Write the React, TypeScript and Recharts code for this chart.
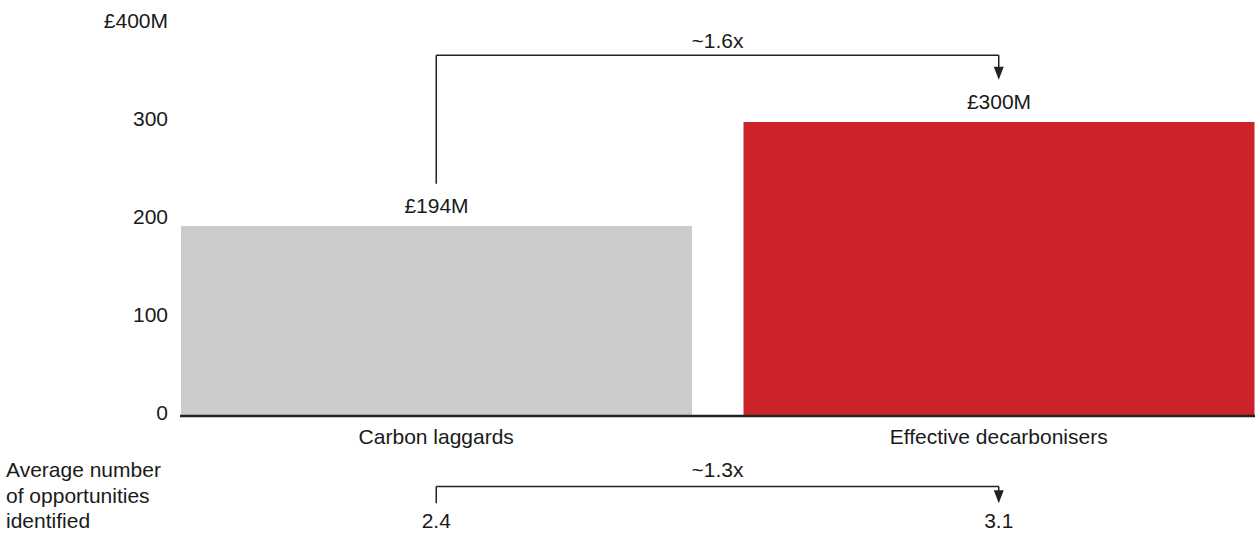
import { BarChart, Bar, XAxis, YAxis, Cell, LabelList, ReferenceLine } from 'recharts';

const categories = ['Carbon laggards', 'Effective decarbonisers'];
const revenue = [194, 300];
const opportunities = [2.4, 3.1];
const barColors = ['#cccccc', '#cc2229'];
const yTicks = [0, 100, 200, 300, 400];
const revenueMultiple = '~1.6x';
const opportunityMultiple = '~1.3x';

// bracket levels, in axis units
const BRACKET_TOP = 368;
const BRACKET_LEFT_END = 237;
const BRACKET_ARROW_TIP = 343;
const LOWER_BRACKET = -72;
const LOWER_BRACKET_END = -89;

const INK = '#1a1a1a';
const FONT = '"Liberation Sans", Arial, Helvetica, sans-serif';

const data = categories.map((name, i) => ({ name, value: revenue[i], opps: opportunities[i] }));

function CategoryTick(props: any) {
  const { x, y, payload } = props;
  const i = categories.indexOf(payload.value);
  return (
    <g>
      <text x={x} y={y + 20} textAnchor="middle" fill={INK} fontSize={21}>
        {payload.value}
      </text>
      <text x={x} y={y + 104} textAnchor="middle" fill={INK} fontSize={21}>
        {opportunities[i]}
      </text>
    </g>
  );
}

function plainLine(props: any) {
  const { x1, y1, x2, y2 } = props;
  return <line x1={x1} y1={y1} x2={x2} y2={y2} stroke="#222" strokeWidth={1.5} />;
}

function arrowLine(props: any) {
  const { x1, y1, x2, y2 } = props;
  const top = Math.min(y1, y2);
  const tip = Math.max(y1, y2);
  return (
    <g>
      <line x1={x1} y1={top} x2={x2} y2={tip - 6} stroke="#222" strokeWidth={1.5} />
      <polygon points={`${x2 - 5},${tip - 13} ${x2 + 5},${tip - 13} ${x2},${tip}`} fill="#222" />
    </g>
  );
}

export default function App() {
  return (
    <div style={{ position: 'absolute', left: 0, top: 0, width: 1255, height: 534, fontFamily: FONT, background: '#fff' }}>
      <BarChart
        width={1255}
        height={534}
        data={data}
        margin={{ top: 24, right: 0, bottom: 0, left: 0 }}
        barCategoryGap={26}
      >
        <YAxis
          type="number"
          domain={[0, 400]}
          ticks={yTicks}
          width={180}
          axisLine={false}
          tickLine={false}
          tickMargin={6}
          tick={{ fill: INK, fontSize: 21, dy: -3 }}
          tickFormatter={(v: number) => (v === 400 ? '£400M' : String(v))}
        />
        <XAxis
          dataKey="name"
          type="category"
          height={118}
          padding={{ left: -25, right: -25 }}
          axisLine={{ stroke: '#222', strokeWidth: 2.5 }}
          tickLine={false}
          tick={<CategoryTick />}
          interval={0}
        />
        <Bar dataKey="value" isAnimationActive={false}>
          {data.map((d, i) => (
            <Cell key={d.name} fill={barColors[i]} />
          ))}
          <LabelList
            dataKey="value"
            position="top"
            offset={13}
            fill={INK}
            fontSize={21}
            formatter={(v: any) => `£${v}M`}
          />
        </Bar>

        <ReferenceLine
          segment={[{ x: categories[0], y: BRACKET_LEFT_END }, { x: categories[0], y: BRACKET_TOP }]}
          shape={plainLine}
        />
        <ReferenceLine
          segment={[{ x: categories[0], y: BRACKET_TOP }, { x: categories[1], y: BRACKET_TOP }]}
          shape={plainLine}
          label={{ value: revenueMultiple, position: 'top', offset: 7, fill: INK, fontSize: 21 }}
        />
        <ReferenceLine
          segment={[{ x: categories[1], y: BRACKET_TOP }, { x: categories[1], y: BRACKET_ARROW_TIP }]}
          shape={arrowLine}
        />

        <ReferenceLine
          ifOverflow="visible"
          segment={[{ x: categories[0], y: LOWER_BRACKET }, { x: categories[0], y: LOWER_BRACKET_END }]}
          shape={plainLine}
        />
        <ReferenceLine
          ifOverflow="visible"
          segment={[{ x: categories[0], y: LOWER_BRACKET }, { x: categories[1], y: LOWER_BRACKET }]}
          shape={plainLine}
          label={{ value: opportunityMultiple, position: 'top', offset: 10, fill: INK, fontSize: 21 }}
        />
        <ReferenceLine
          ifOverflow="visible"
          segment={[{ x: categories[1], y: LOWER_BRACKET }, { x: categories[1], y: LOWER_BRACKET_END }]}
          shape={arrowLine}
        />
      </BarChart>
      <div
        style={{
          position: 'absolute',
          left: 6,
          top: 457,
          fontSize: 21,
          lineHeight: '25.5px',
          color: INK,
        }}
      >
        Average number
        <br />
        of opportunities
        <br />
        identified
      </div>
    </div>
  );
}
